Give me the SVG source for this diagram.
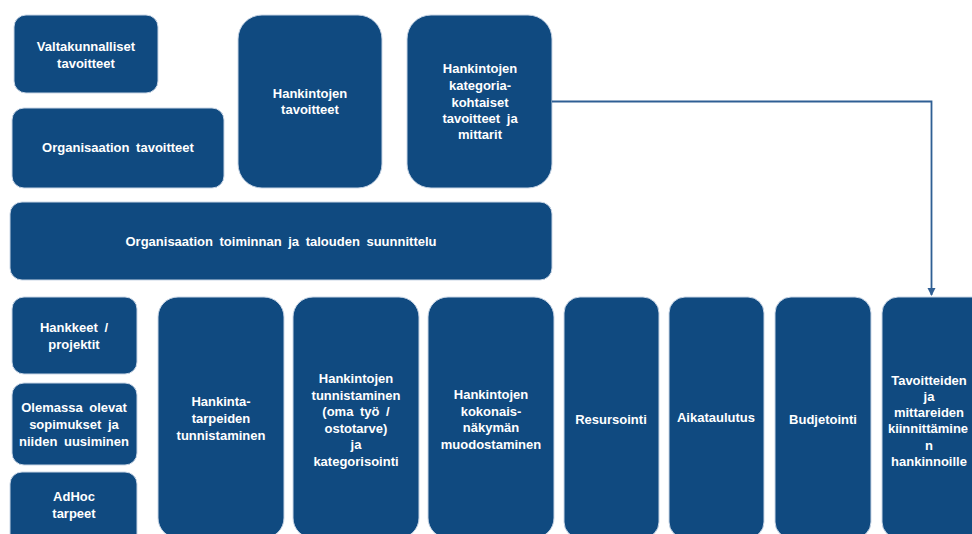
<svg xmlns="http://www.w3.org/2000/svg" width="972" height="534" viewBox="0 0 972 534">
<defs>
<style>
.n{fill:#104a80;stroke:#c9d6e6;stroke-width:1}
.t{font-family:"Liberation Sans",Arial,sans-serif;font-size:13px;font-weight:bold;fill:#ffffff;text-anchor:middle;word-spacing:3px}
.c{fill:none;stroke:#2f5f94;stroke-width:1.8}
</style>
<marker id="ah" markerWidth="10" markerHeight="10" refX="7" refY="4" orient="auto" markerUnits="userSpaceOnUse">
<path d="M0,0 L8,4 L0,8 Z" fill="#2f5f94"/>
</marker>
</defs>
<rect width="972" height="534" fill="#ffffff"/>
<g id="n1"><rect class="n" x="14" y="15" width="144" height="78" rx="12"/>
<text class="t" x="86" y="51">Valtakunnalliset</text><text class="t" x="86" y="68">tavoitteet</text></g>
<g id="n2"><rect class="n" x="12" y="108" width="212" height="80" rx="12"/>
<text class="t" x="118" y="152">Organisaation tavoitteet</text></g>
<g id="n3"><rect class="n" x="238" y="15" width="144" height="173" rx="24"/>
<text class="t" x="310" y="98">Hankintojen</text><text class="t" x="310" y="114">tavoitteet</text></g>
<g id="n4"><rect class="n" x="407" y="15" width="145" height="173" rx="24"/>
<text class="t" x="480" y="73">Hankintojen</text><text class="t" x="480" y="90">kategoria-</text><text class="t" x="480" y="107">kohtaiset</text><text class="t" x="480" y="123">tavoitteet ja</text><text class="t" x="480" y="139">mittarit</text></g>
<g id="n5"><rect class="n" x="10" y="202" width="542" height="78" rx="12"/>
<text class="t" x="281" y="246">Organisaation toiminnan ja talouden suunnittelu</text></g>
<g id="n6"><rect class="n" x="12" y="297" width="125" height="77" rx="12"/>
<text class="t" x="74" y="332">Hankkeet  /</text><text class="t" x="74" y="349">projektit</text></g>
<g id="n7"><rect class="n" x="12" y="383" width="125" height="82" rx="12"/>
<text class="t" x="74" y="412">Olemassa olevat</text><text class="t" x="74" y="429">sopimukset ja</text><text class="t" x="74" y="446">niiden uusiminen</text></g>
<g id="n8"><rect class="n" x="10" y="472" width="127" height="80" rx="12"/>
<text class="t" x="74" y="501">AdHoc</text><text class="t" x="74" y="518">tarpeet</text></g>
<g id="n9"><rect class="n" x="158" y="297" width="126" height="241" rx="20"/>
<text class="t" x="221" y="406">Hankinta-</text><text class="t" x="221" y="423">tarpeiden</text><text class="t" x="221" y="440">tunnistaminen</text></g>
<g id="n10"><rect class="n" x="293" y="297" width="126" height="241" rx="20"/>
<text class="t" x="356" y="383">Hankintojen</text><text class="t" x="356" y="400">tunnistaminen</text><text class="t" x="356" y="416">(oma työ /</text><text class="t" x="356" y="433">ostotarve)</text><text class="t" x="356" y="449">ja</text><text class="t" x="356" y="466">kategorisointi</text></g>
<g id="n11"><rect class="n" x="428" y="297" width="126" height="241" rx="20"/>
<text class="t" x="491" y="399">Hankintojen</text><text class="t" x="491" y="416">kokonais-</text><text class="t" x="491" y="432">näkymän</text><text class="t" x="491" y="449">muodostaminen</text></g>
<g id="n12"><rect class="n" x="564" y="297" width="95" height="241" rx="16"/>
<text class="t" x="611" y="424">Resursointi</text></g>
<g id="n13"><rect class="n" x="669" y="297" width="95" height="241" rx="16"/>
<text class="t" x="716" y="422">Aikataulutus</text></g>
<g id="n14"><rect class="n" x="775" y="297" width="96" height="241" rx="16"/>
<text class="t" x="823" y="424">Budjetointi</text></g>
<g id="n15"><rect class="n" x="882" y="297" width="110" height="241" rx="16"/>
<text class="t" x="929" y="385">Tavoitteiden</text><text class="t" x="929" y="401">ja</text><text class="t" x="929" y="417">mittareiden</text><text class="t" x="928" y="433">kiinnittämine</text><text class="t" x="929" y="450">n</text><text class="t" x="929" y="466">hankinnoille</text></g>
<g id="connectors">
<path class="c" d="M552,101.5 H931.5 V295" marker-end="url(#ah)"/>
</g>
</svg>
